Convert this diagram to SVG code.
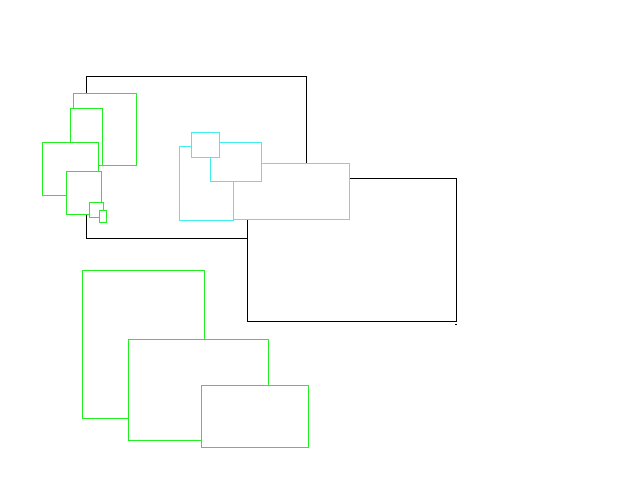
<svg xmlns="http://www.w3.org/2000/svg" width="640" height="480" viewBox="0 0 640 480">
<style>
rect.k{fill:#fff;stroke:#000;stroke-width:1}
rect.g{fill:#fff;stroke:#22f022;stroke-width:1}
rect.c{fill:#fff;stroke:#40eeee;stroke-width:1}
</style>
<rect width="640" height="480" fill="#fff"/>
<g id="blackA"><rect class="k" x="86.5" y="76.5" width="220" height="162"/></g>
<g id="blackB"><rect class="k" x="247.5" y="178.5" width="209" height="143"/></g>
<g id="mark"><rect x="455" y="324" width="2" height="1" fill="#000"/></g>
<g id="g1"><rect class="g" x="73.5" y="93.5" width="63" height="72"/></g>
<g id="g2"><rect class="g" x="70.5" y="108.5" width="32" height="57"/></g>
<g id="g3"><rect class="g" x="42.5" y="142.5" width="56" height="53"/></g>
<g id="g4"><rect class="g" x="66.5" y="171.5" width="35" height="43"/></g>
<g id="g5"><rect class="g" x="89.5" y="202.5" width="14" height="15"/></g>
<g id="g6"><rect class="g" x="99.5" y="210.5" width="7" height="12"/></g>
<g id="c1"><rect class="c" x="179.5" y="146.5" width="54" height="74"/></g>
<g id="c4"><rect class="c" x="233.5" y="163.5" width="116" height="56"/></g>
<g id="c3"><rect class="c" x="210.5" y="142.5" width="51" height="39"/></g>
<g id="c2"><rect class="c" x="191.5" y="132.5" width="28" height="25"/></g>
<g id="g7"><rect class="g" x="82.5" y="270.5" width="122" height="148"/></g>
<g id="g8"><rect class="g" x="128.5" y="339.5" width="140" height="101"/></g>
<g id="g9"><rect class="g" x="201.5" y="385.5" width="107" height="62"/></g>
<g id="connectors"></g>
</svg>
